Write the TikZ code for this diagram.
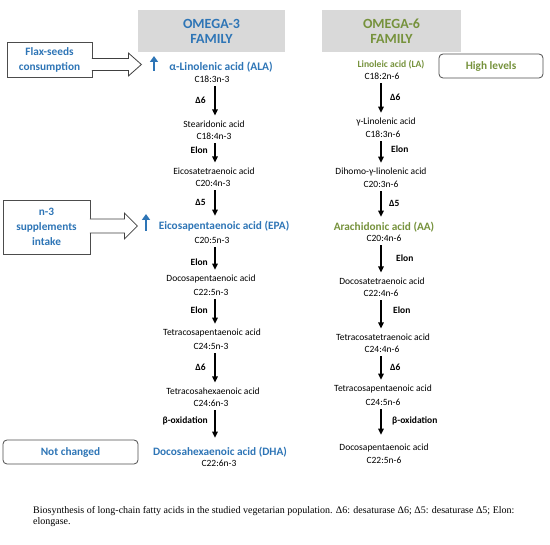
\documentclass[tikz,border=0pt]{standalone}
\usepackage{fontspec}
\setmainfont{Carlito}
\newfontfamily\capfont{Liberation Serif}
\usetikzlibrary{arrows.meta,calc}
\definecolor{othree}{RGB}{46,117,182}
\definecolor{osix}{RGB}{118,146,60}
\definecolor{hdrgray}{RGB}{217,217,217}
\begin{document}
\begin{tikzpicture}[x=1pt,y=-1pt,
 hdrbox/.style={fill=hdrgray,minimum height=42pt,inner sep=0pt,align=center,font=\bfseries\fontsize{14}{15}\selectfont},
 fa/.style={inner sep=0pt,font=\fontsize{9.5}{11}\selectfont},
 mainacid/.style={inner sep=0pt,font=\bfseries\fontsize{11.3}{13}\selectfont},
 enz/.style={inner sep=0pt,font=\bfseries\fontsize{9.5}{11}\selectfont},
 down/.style={-{Triangle[length=6pt,width=5.5pt]},line width=1.7pt,shorten <=4pt,shorten >=5pt},
 upar/.style={-{Triangle[length=6pt,width=8pt]},draw=othree,line width=2pt},
 sidebox/.style={draw=black!70,line width=0.8pt,inner sep=0pt,align=center,font=\bfseries\fontsize{11.3}{15}\selectfont},
 hollow/.style={draw=black!75,line width=0.8pt,fill=white}
]
\useasboundingbox (0,0) rectangle (550,545);
% headers
\node[hdrbox,text=othree,minimum width=147pt] (h3) at (211.5,31) {OMEGA-3\\FAMILY};
\node[hdrbox,text=osix,minimum width=139pt] (h6) at (391.5,31) {OMEGA-6\\FAMILY};
% column coordinates
\coordinate (c3) at (215,0);
\coordinate (c6) at (381,0);
% omega-3 chain
\node[mainacid,text=othree,font=\bfseries\fontsize{11.5}{13}\selectfont] (ala) at (221,67) {α-Linolenic acid (ALA)};
\node[fa] (alaf) at (212,79) {C18:3n-3};
\node[fa] (sda) at (214,124) {Stearidonic acid};
\node[fa] (sdaf) at (214,136) {C18:4n-3};
\node[fa] (eta) at (214,171) {Eicosatetraenoic acid};
\node[fa] (etaf) at (213,183) {C20:4n-3};
\node[mainacid,text=othree] (epa) at (224,226) {Eicosapentaenoic acid (EPA)};
\node[fa] (epaf) at (212,240) {C20:5n-3};
\node[fa] (dpa) at (211,279) {Docosapentaenoic acid};
\node[fa] (dpaf) at (211,292) {C22:5n-3};
\node[fa] (tpa) at (212,333) {Tetracosapentaenoic acid};
\node[fa] (tpaf) at (211,346) {C24:5n-3};
\node[fa] (tha) at (213,391) {Tetracosahexaenoic acid};
\node[fa] (thaf) at (211,403) {C24:6n-3};
\node[mainacid,text=othree] (dha) at (220,452) {Docosahexaenoic acid (DHA)};
\node[fa] (dhaf) at (219,463) {C22:6n-3};
\draw[down] (alaf.south -| c3) -- (sda.north -| c3);
\draw[down] (sdaf.south -| c3) -- (eta.north -| c3);
\draw[down] (etaf.south -| c3) -- (epa.north -| c3);
\draw[down] (epaf.south -| c3) -- (dpa.north -| c3);
\draw[down] (dpaf.south -| c3) -- (tpa.north -| c3);
\draw[down] (tpaf.south -| c3) -- (tha.north -| c3);
\draw[down,shorten >=9pt] (thaf.south -| c3) -- (dha.north -| c3);
\node[enz,anchor=east] (e31) at (206,100) {Δ6};
\node[enz,anchor=east] (e32) at (208,150) {Elon};
\node[enz,anchor=east] (e33) at (206,202) {Δ5};
\node[enz,anchor=east] (e34) at (208,262) {Elon};
\node[enz,anchor=east] (e35) at (208,310) {Elon};
\node[enz,anchor=east] (e36) at (206,367) {Δ6};
\node[enz,anchor=east] (e37) at (208,421) {β-oxidation};
% omega-6 chain
\node[mainacid,text=osix,font=\bfseries\fontsize{9.6}{11}\selectfont] (la) at (391,65) {Linoleic acid (LA)};
\node[fa] (laf) at (382,76) {C18:2n-6};
\node[fa] (gla) at (386,122) {γ-Linolenic acid};
\node[fa] (glaf) at (383,134) {C18:3n-6};
\node[fa] (dgla) at (381,172) {Dihomo-γ-linolenic acid};
\node[fa] (dglaf) at (381,184) {C20:3n-6};
\node[mainacid,text=osix] (aa) at (384,227) {Arachidonic acid (AA)};
\node[fa] (aaf) at (384,238) {C20:4n-6};
\node[fa] (dta) at (382,281) {Docosatetraenoic acid};
\node[fa] (dtaf) at (381,293) {C22:4n-6};
\node[fa] (tta) at (383,337) {Tetracosatetraenoic acid};
\node[fa] (ttaf) at (382,349) {C24:4n-6};
\node[fa] (tpsix) at (383,389) {Tetracosapentaenoic acid};
\node[fa] (tpsixf) at (383,402) {C24:5n-6};
\node[fa] (dpsix) at (384,448) {Docosapentaenoic acid};
\node[fa] (dpsixf) at (384,460) {C22:5n-6};
\draw[down] (laf.south -| c6) -- (gla.north -| c6);
\draw[down] (glaf.south -| c6) -- (dgla.north -| c6);
\draw[down] (dglaf.south -| c6) -- (aa.north -| c6);
\draw[down] (aaf.south -| c6) -- (dta.north -| c6);
\draw[down] (dtaf.south -| c6) -- (tta.north -| c6);
\draw[down] (ttaf.south -| c6) -- (tpsix.north -| c6);
\draw[down,shorten >=9pt] (tpsixf.south -| c6) -- (dpsix.north -| c6);
\node[enz,anchor=west] (e61) at (390,97) {Δ6};
\node[enz,anchor=west] (e62) at (391,149) {Elon};
\node[enz,anchor=west] (e63) at (389,203) {Δ5};
\node[enz,anchor=west] (e64) at (396,258) {Elon};
\node[enz,anchor=west] (e65) at (393,310) {Elon};
\node[enz,anchor=west] (e66) at (390,367) {Δ6};
\node[enz,anchor=west] (e67) at (392,421) {β-oxidation};
% side boxes
\node[sidebox,text=othree,minimum width=85pt,minimum height=35pt] (flax) at (49.5,59.5) {Flax-seeds\\consumption};
\node[sidebox,text=othree,minimum width=87pt,minimum height=54pt] (nthree) at (46.5,227) {n-3\\supplements\\intake};
\node[sidebox,rounded corners=4pt,text=othree,minimum width=135pt,minimum height=24pt] (nc) at (70.5,452) {Not changed};
\node[sidebox,rounded corners=4pt,text=osix,minimum width=104pt,minimum height=24pt] (hl) at (491,66) {High levels};
% hollow block arrows
\draw[hollow] ($(flax.east)+(-0.6,-1)$) -- ++(36.6,0) -- ++(0,-5.5) -- ++(13,11.5) -- ++(-13,11.5) -- ++(0,-5.5) -- ++(-36.6,0);
\draw[hollow] ($(nthree.east)+(-0.6,-8)$) -- ++(34.6,0) -- ++(0,-6) -- ++(13,13) -- ++(-13,13) -- ++(0,-6) -- ++(-34.6,0);
% up arrows
\coordinate (ua1) at (154,71);
\coordinate (ub1) at (154,56);
\coordinate (ua2) at (146,231);
\coordinate (ub2) at (146,214);
\draw[upar] (ua1) -- (ub1);
\draw[upar] (ua2) -- (ub2);
% caption
\node[anchor=north west,inner sep=0pt,align=left,font=\capfont\fontsize{10}{11}\selectfont] (cap) at (33,506) {Biosynthesis of long-chain fatty acids in the studied vegetarian population. Δ6: desaturase Δ6; Δ5: desaturase Δ5; Elon:\\elongase.};
\end{tikzpicture}
\end{document}
